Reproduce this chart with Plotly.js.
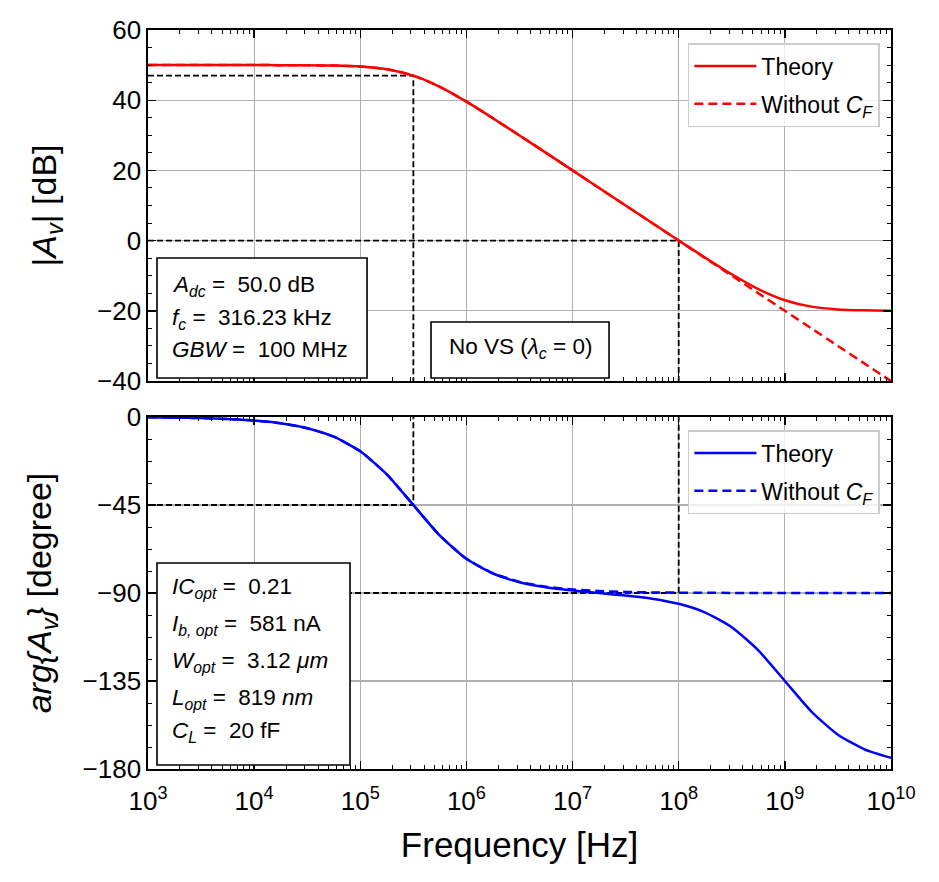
<!DOCTYPE html>
<html>
<head>
<meta charset="utf-8">
<script src="https://cdn.plot.ly/plotly-3.0.1.min.js"></script>
<style>
  html, body { margin: 0; padding: 0; background: #fff; }
  #plot { width: 939px; height: 882px; }
</style>
</head>
<body>
<div id="plot"></div>
<script>
// frequency points (Hz), quarter-decade spacing
let freq = [1e3, 1.778e3, 3.162e3, 5.623e3, 1e4, 1.778e4, 3.162e4, 5.623e4,
  1e5, 1.778e5, 3.162e5, 5.623e5, 1e6, 1.778e6, 3.162e6, 5.623e6,
  1e7, 1.778e7, 3.162e7, 5.623e7, 1e8, 1.778e8, 3.162e8, 5.623e8,
  1e9, 1.778e9, 3.162e9, 5.623e9, 1e10]

// |Av| in dB
let gain_theory = [50.00, 50.00, 50.00, 50.00, 50.00, 49.99, 49.96, 49.86,
  49.59, 48.81, 46.99, 43.81, 39.59, 34.86, 29.96, 24.99,
  20.00, 15.00, 10.00, 5.01, 0.04, -4.87, -9.59, -13.81,
  -16.99, -18.81, -19.59, -19.86, -19.96]
let gain_no_cf = [50.00, 50.00, 50.00, 50.00, 50.00, 49.99, 49.96, 49.86,
  49.59, 48.81, 46.99, 43.81, 39.59, 34.86, 29.96, 24.99,
  20.00, 15.00, 10.00, 5.00, 0.00, -5.00, -10.00, -15.00,
  -20.00, -25.00, -30.00, -35.00, -40.00]

// arg{Av} in degree
let phase_theory = [-0.18, -0.32, -0.57, -1.02, -1.81, -3.22, -5.71, -10.08,
  -17.55, -29.36, -45.00, -60.67, -72.51, -80.02, -84.47, -87.10,
  -88.76, -90.00, -91.24, -92.90, -95.53, -99.98, -107.49, -119.33,
  -134.98, -150.63, -162.44, -169.92, -174.29]
let phase_no_cf = [-0.18, -0.32, -0.57, -1.02, -1.81, -3.22, -5.71, -10.08,
  -17.55, -29.36, -45.00, -60.64, -72.45, -79.92, -84.29, -86.78,
  -88.19, -88.98, -89.43, -89.68, -89.82, -89.90, -89.94, -89.97,
  -89.98, -89.99, -89.99, -90.00, -90.00]

// marker lines
let f_c = 316.23e3
let gain_fc = 46.99
let gbw = 1e8
let f_min = 1e3

let decades = [3, 4, 5, 6, 7, 8, 9, 10]
let yticks_phase = [0, -45, -90, -135, -180]

let font_family = 'Liberation Sans, Arial, sans-serif'

let dec_vals = decades.map(d => Math.pow(10, d))
let dec_text = decades.map(d => '10<sup>' + d + '</sup>')
let minor_vals = []
for (let d = 3; d < 10; d++) {
  for (let m = 2; m < 10; m++) {
    minor_vals.push(m * Math.pow(10, d))
  }
}

let dash_black = {color: 'black', width: 1.8, dash: '6px,3px'}

function guide(x, y, xa, ya) {
  return {x: x, y: y, xaxis: xa, yaxis: ya, mode: 'lines', line: dash_black,
    showlegend: false, hoverinfo: 'skip'}
}

let graph_data = [
  guide([f_min, f_c, f_c], [gain_fc, gain_fc, -40], 'x', 'y'),
  guide([f_min, gbw, gbw], [0, 0, -40], 'x', 'y'),
  guide([f_min, f_c, f_c], [-45, -45, 0], 'x2', 'y2'),
  guide([f_min, gbw, gbw], [-90, -90, 0], 'x2', 'y2'),
  {
    x: freq, y: gain_no_cf, xaxis: 'x', yaxis: 'y', mode: 'lines',
    name: 'Without <i>C<sub>F</sub></i>', legend: 'legend', legendgroup: 'b', legendrank: 2,
    line: {color: '#ff0000', width: 2.5, dash: '9px,5px', shape: 'spline', smoothing: 0.6}
  },
  {
    x: freq, y: gain_theory, xaxis: 'x', yaxis: 'y', mode: 'lines',
    name: 'Theory', legend: 'legend', legendgroup: 'a', legendrank: 1,
    line: {color: '#ff0000', width: 2.5, shape: 'spline', smoothing: 0.6}
  },
  {
    x: freq, y: phase_no_cf, xaxis: 'x2', yaxis: 'y2', mode: 'lines',
    name: 'Without <i>C<sub>F</sub></i>', legend: 'legend2', legendgroup: 'd', legendrank: 2,
    line: {color: '#0000ff', width: 2.5, dash: '9px,5px', shape: 'spline', smoothing: 0.6}
  },
  {
    x: freq, y: phase_theory, xaxis: 'x2', yaxis: 'y2', mode: 'lines',
    name: 'Theory', legend: 'legend2', legendgroup: 'c', legendrank: 1,
    line: {color: '#0000ff', width: 2.5, shape: 'spline', smoothing: 0.6}
  }
]

let axis_common = {
  showline: true, linecolor: 'black', linewidth: 1.6, mirror: 'allticks',
  ticks: 'inside', ticklen: 8, tickwidth: 1.4, tickcolor: 'black',
  showgrid: true, gridcolor: '#b0b0b0', gridwidth: 1.2, zeroline: false,
  tickfont: {size: 26, color: 'black'}
}

let x_common = Object.assign({}, axis_common, {
  type: 'log', range: [3, 10], tickmode: 'array', tickvals: dec_vals, ticktext: dec_text,
  minor: {tickmode: 'array', tickvals: minor_vals, ticks: 'inside', ticklen: 4, tickwidth: 1, tickcolor: 'black', showgrid: false}
})

let legend_common = {
  xanchor: 'right', yanchor: 'top', x: 0.985,
  bgcolor: 'rgba(255,255,255,0.8)', bordercolor: '#cccccc', borderwidth: 1.5,
  font: {size: 23, color: 'black'}, traceorder: 'grouped', tracegroupgap: 5,
  itemwidth: 62
}

function box(xr, yr, x0, x1, y0, y1) {
  return {type: 'rect', xref: xr, yref: yr, x0: x0, x1: x1, y0: y0, y1: y1,
    line: {color: 'black', width: 1.6}, fillcolor: 'white', layer: 'above'}
}

function label(xr, yr, x, y, text, anchor) {
  return {xref: xr, yref: yr, x: x, y: y, text: text, showarrow: false,
    xanchor: anchor || 'left', yanchor: 'middle', font: {size: 22.5, color: 'black'}}
}

let top_lines = [
  '<i>A<sub>dc</sub></i> =  50.0 dB',
  '<i>f<sub>c</sub></i> =  316.23 kHz',
  '<i>GBW</i> =  100 MHz'
]
let top_y = [0.272, 0.178, 0.090]

let bottom_lines = [
  '<i>IC<sub>opt</sub></i> =  0.21',
  '<i>I<sub>b, opt</sub></i> =  581 nA',
  '<i>W<sub>opt</sub></i> =  3.12 <i>μm</i>',
  '<i>L<sub>opt</sub></i> =  819 <i>nm</i>',
  '<i>C<sub>L</sub></i> =  20 fF'
]
let bottom_y = [0.514, 0.408, 0.305, 0.200, 0.106]

let annotations = []
top_lines.forEach((t, i) => annotations.push(label('x domain', 'y domain', 0.029, top_y[i], t)))
bottom_lines.forEach((t, i) => annotations.push(label('x2 domain', 'y2 domain', 0.029, bottom_y[i], t)))
annotations.push(label('x domain', 'y domain', 0.5007, 0.093, 'No VS (<i>λ<sub>c</sub></i> = 0)', 'center'))

var layout = {
  width: 939, height: 882,
  margin: {l: 148, r: 48, t: 30, b: 113},
  paper_bgcolor: 'white', plot_bgcolor: 'white',
  font: {family: font_family, color: 'black'},
  showlegend: true,
  xaxis: Object.assign({}, x_common, {domain: [0, 1], anchor: 'y', showticklabels: false}),
  yaxis: Object.assign({}, axis_common, {
    domain: [0.525, 1], anchor: 'x', range: [-40, 60], dtick: 20, tick0: 0,
    minor: {dtick: 5, tick0: 0, ticks: 'inside', ticklen: 4, tickwidth: 1, tickcolor: 'black', showgrid: false},
    title: {text: '|<i>A<sub>v</sub></i>| [dB]', font: {size: 34}, standoff: 30}
  }),
  xaxis2: Object.assign({}, x_common, {
    domain: [0, 1], anchor: 'y2', ticklabelstandoff: 8,
    title: {text: 'Frequency [Hz]', font: {size: 35}, standoff: 18}
  }),
  yaxis2: Object.assign({}, axis_common, {
    domain: [0, 0.4763], anchor: 'x2', range: [-180, 0], tickmode: 'array', tickvals: yticks_phase,
    minor: {dtick: 11.25, tick0: 0, ticks: 'inside', ticklen: 4, tickwidth: 1, tickcolor: 'black', showgrid: false},
    title: {text: '<i>arg{A<sub>v</sub>}</i> [degree]', font: {size: 34}, standoff: 21}
  }),
  legend: Object.assign({}, legend_common, {y: 0.9824}),
  legend2: Object.assign({}, legend_common, {y: 0.4587}),
  shapes: [
    box('x domain', 'y domain', 0.0121, 0.2948, 0.0085, 0.3504),
    box('x domain', 'y domain', 0.3809, 0.6205, 0.0085, 0.1681),
    box('x2 domain', 'y2 domain', 0.0121, 0.2719, 0.0114, 0.5852)
  ],
  annotations: annotations
}

Plotly.newPlot('plot', graph_data, layout, {staticPlot: true})
</script>
</body>
</html>
